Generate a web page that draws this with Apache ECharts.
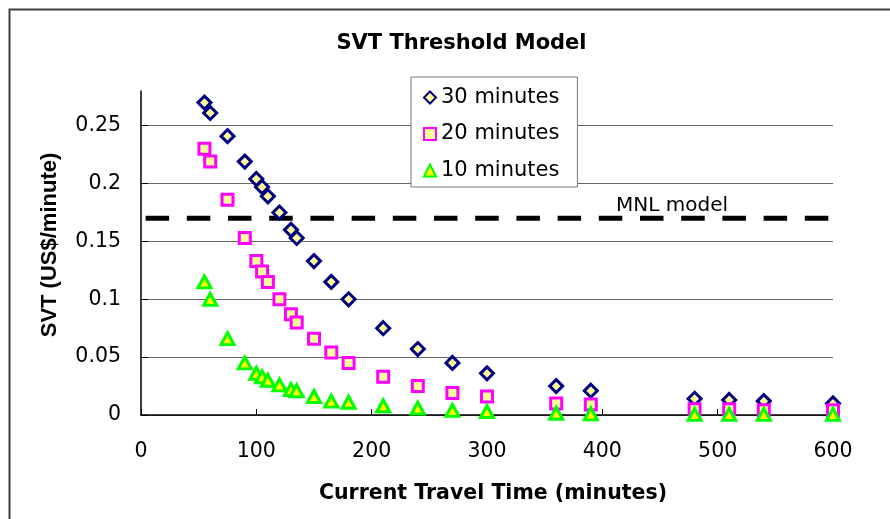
<!DOCTYPE html>
<html>
<head>
<meta charset="utf-8">
<script src="https://cdn.jsdelivr.net/npm/echarts@6/dist/echarts.min.js"></script>
<style>
html,body{margin:0;padding:0;background:#fff;}
#chart{width:890px;height:519px;}
</style>
</head>
<body>
<div id="chart"></div>
<script>
// Data
var travelTime = [55, 60, 75, 90, 100, 105, 110, 120, 130, 135, 150, 165, 180, 210, 240, 270, 300, 360, 390, 480, 510, 540, 600];
var svt30 = [0.270, 0.261, 0.241, 0.219, 0.204, 0.197, 0.189, 0.175, 0.160, 0.153, 0.133, 0.115, 0.100, 0.075, 0.057, 0.045, 0.036, 0.025, 0.021, 0.014, 0.013, 0.012, 0.010];
var svt20 = [0.230, 0.219, 0.186, 0.153, 0.133, 0.124, 0.115, 0.100, 0.087, 0.080, 0.066, 0.054, 0.045, 0.033, 0.025, 0.019, 0.016, 0.010, 0.009, 0.005, 0.005, 0.004, 0.004];
var svt10 = [0.115, 0.100, 0.066, 0.045, 0.036, 0.033, 0.030, 0.026, 0.022, 0.021, 0.016, 0.012, 0.011, 0.008, 0.006, 0.004, 0.003, 0.0015, 0.001, 0.0005, 0.0005, 0.0005, 0.0005];
var seriesNames = ['30 minutes', '20 minutes', '10 minutes'];
var mnlX = [4, 600];
var mnlValue = 0.17;
var mnlLabel = 'MNL model';
var xTicks = {min: 0, max: 600, interval: 100};
var yTicks = {min: 0, max: 0.28, interval: 0.05};

function pairs(xs, ys) { return xs.map(function (x, i) { return [x, ys[i]]; }); }

var FONT = 'DejaVu Sans';
var styles = [
  {symbol: 'diamond', size: 13, border: '#000080', fill: '#FFFF99'},
  {symbol: 'rect', size: 11, border: '#FF00FF', fill: '#FFFF99'},
  {symbol: 'triangle', size: [13, 12], border: '#00FF00', fill: '#FFFF00'}
];
var values = [svt30, svt20, svt10];

var chart = echarts.init(document.getElementById('chart'), null, {renderer: 'canvas'});
var series = values.map(function (v, i) {
  return {
    name: seriesNames[i],
    type: 'scatter',
    data: pairs(travelTime, v),
    symbol: styles[i].symbol,
    symbolSize: styles[i].size,
    itemStyle: {color: styles[i].fill, borderColor: styles[i].border, borderWidth: 3, opacity: 1},
    emphasis: {disabled: true},
    z: 3 + i
  };
});
series.unshift({
  name: mnlLabel,
  type: 'line',
  data: mnlX.map(function (x) { return [x, mnlValue]; }),
  symbol: 'none',
  lineStyle: {color: '#000', width: 5, type: [23.5, 17.7], cap: 'butt'},
  silent: true,
  z: 2
});

chart.setOption({
  backgroundColor: '#fff',
  animation: false,
  title: {
    text: 'SVT Threshold Model',
    left: 456.5,
    top: 28,
    textAlign: 'center',
    textStyle: {fontFamily: FONT, fontWeight: 'bold', fontSize: 21, color: '#000'}
  },
  grid: {left: 141, right: 57, top: 91, bottom: 104, containLabel: false},
  legend: {
    orient: 'vertical',
    left: 411,
    top: 77,
    padding: [10, 18, 6, 12],
    itemGap: 15.5,
    itemWidth: 12,
    itemHeight: 12,
    backgroundColor: '#fff',
    borderColor: '#777',
    borderWidth: 1,
    borderRadius: 0,
    selectedMode: false,
    textStyle: {fontFamily: FONT, fontSize: 21, lineHeight: 20, color: '#000'},
    data: seriesNames.map(function (n, i) {
      return {name: n, icon: styles[i].symbol,
        itemStyle: {color: styles[i].fill, borderColor: styles[i].border, borderWidth: 2}};
    })
  },
  xAxis: {
    type: 'value',
    min: xTicks.min, max: xTicks.max, interval: xTicks.interval,
    name: 'Current Travel Time (minutes)',
    nameLocation: 'middle',
    nameGap: 68,
    nameTextStyle: {fontFamily: FONT, fontWeight: 'bold', fontSize: 20.5, color: '#000', padding: [0, 0, 0, 12]},
    axisLine: {show: true, onZero: false, lineStyle: {color: '#000', width: 1.5}},
    axisTick: {show: true, inside: true, length: 6, lineStyle: {color: '#000', width: 1}},
    axisLabel: {fontFamily: FONT, fontSize: 20.5, color: '#000', margin: 26},
    splitLine: {show: false}
  },
  yAxis: {
    type: 'value',
    min: yTicks.min, max: yTicks.max, interval: yTicks.interval,
    name: 'SVT (US$/minute)',
    nameLocation: 'middle',
    nameGap: 80,
    nameRotate: 90,
    nameTextStyle: {fontFamily: 'Liberation Sans', fontWeight: 'bold', fontSize: 22, color: '#000', padding: [0, 0, 0, 16]},
    axisLine: {show: true, onZero: false, lineStyle: {color: '#000', width: 1.5}},
    axisTick: {show: true, inside: true, length: 7, lineStyle: {color: '#000', width: 1}},
    axisLabel: {fontFamily: FONT, fontSize: 20.5, color: '#000', margin: 20, showMaxLabel: false},
    splitLine: {show: true, showMaxLine: false, lineStyle: {color: '#666', width: 1}}
  },
  graphic: [
    {type: 'rect', shape: {x: 9.5, y: 9.5, width: 900, height: 530}, style: {fill: 'none', stroke: '#404040', lineWidth: 2}, silent: true, z: 100},
    {type: 'text', x: 616, y: 205.5, style: {text: mnlLabel, font: '20px "DejaVu Sans"', fill: '#000', textAlign: 'left', textVerticalAlign: 'middle'}, silent: true, z: 100}
  ],
  series: series
});
</script>
</body>
</html>
